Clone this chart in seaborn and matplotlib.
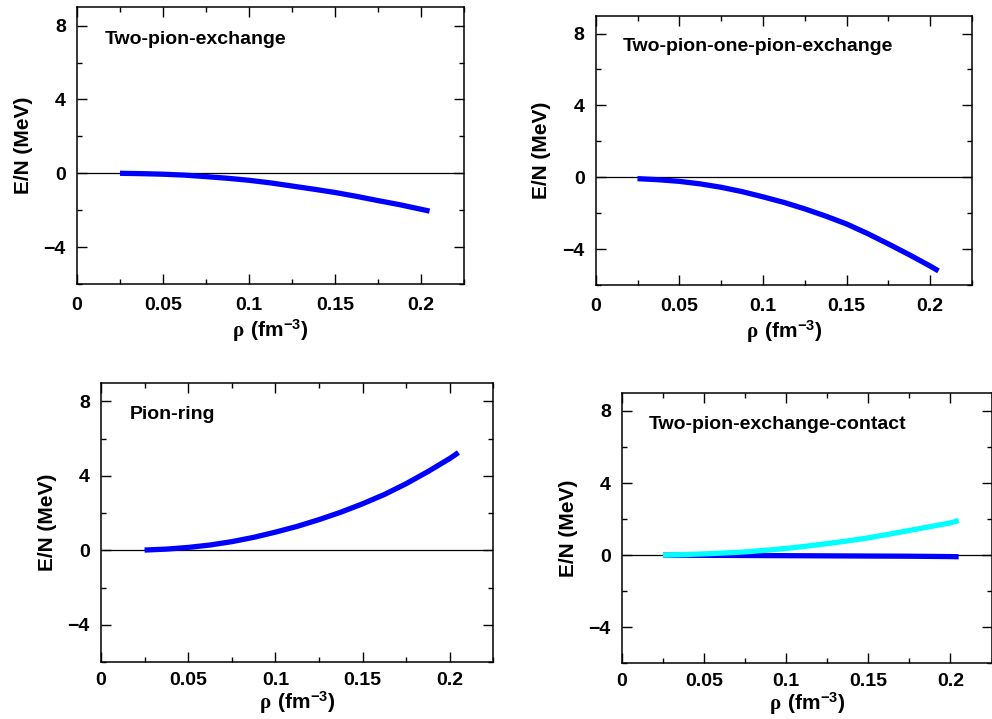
import matplotlib
matplotlib.use('Agg')
import matplotlib.pyplot as plt
import seaborn as sns
import pandas as pd

# densidade (fm^-3) e energia por nucleon (MeV)
rho = [0.025, 0.0375, 0.05, 0.0625, 0.075, 0.0875, 0.1, 0.1125, 0.125,
       0.1375, 0.15, 0.1625, 0.175, 0.1875, 0.2, 0.205]

two_pion_exchange = [0.0, -0.02, -0.05, -0.10, -0.18, -0.27, -0.38, -0.52, -0.69,
                     -0.86, -1.04, -1.25, -1.48, -1.70, -1.95, -2.05]
two_pion_one_pion = [-0.07, -0.13, -0.22, -0.36, -0.55, -0.79, -1.08, -1.39, -1.75,
                     -2.15, -2.59, -3.12, -3.70, -4.30, -4.93, -5.20]
pion_ring = [0.02, 0.07, 0.16, 0.29, 0.47, 0.70, 0.98, 1.29, 1.65,
             2.05, 2.50, 3.00, 3.58, 4.23, 4.93, 5.25]
contact_blue = [0.0, -0.005, -0.01, -0.015, -0.02, -0.025, -0.03, -0.035, -0.04,
                -0.045, -0.05, -0.055, -0.06, -0.07, -0.08, -0.09]
contact_cyan = [0.0, 0.03, 0.07, 0.12, 0.18, 0.27, 0.37, 0.50, 0.64,
                0.79, 0.96, 1.16, 1.37, 1.58, 1.79, 1.92]

panel_titles = ['Two-pion-exchange', 'Two-pion-one-pion-exchange',
                'Pion-ring', 'Two-pion-exchange-contact']
x_ticks = [0, 0.05, 0.1, 0.15, 0.2]
x_tick_labels = ['0', '0.05', '0.1', '0.15', '0.2']
y_ticks = [-4, 0, 4, 8]

sns.set_style('ticks')
plt.rcParams['font.family'] = ['Liberation Sans', 'DejaVu Sans']
plt.rcParams['font.weight'] = 'bold'
plt.rcParams['text.color'] = 'black'
plt.rcParams['axes.labelcolor'] = 'black'
plt.rcParams['xtick.color'] = 'black'
plt.rcParams['ytick.color'] = 'black'
plt.rcParams['mathtext.fontset'] = 'custom'
plt.rcParams['mathtext.rm'] = 'Liberation Serif'
plt.rcParams['mathtext.bf'] = 'Liberation Sans:bold'

fig = plt.figure(figsize=(9.92, 7.19), dpi=100)

# posicoes dos 4 paineis (left, bottom, width, height)
positions = [
    [0.0776, 0.605, 0.3901, 0.385],
    [0.6005, 0.6032, 0.3793, 0.3752],
    [0.1018, 0.0789, 0.3955, 0.3889],
    [0.627, 0.0775, 0.3725, 0.376],
]
# os paineis de baixo ficam perto da borda: rotulos x um pouco mais juntos
x_tick_pads = [9.5, 9.5, 7, 7]
x_label_pads = [2, 2, 0, 0]

series = [
    [(two_pion_exchange, '#0000ff')],
    [(two_pion_one_pion, '#0000ff')],
    [(pion_ring, '#0000ff')],
    [(contact_blue, '#0000ff'), (contact_cyan, '#00ffff')],
]

for i, (pos, title, curves) in enumerate(zip(positions, panel_titles, series)):
    ax = fig.add_axes(pos)
    ax.axhline(0, color='black', lw=0.9, zorder=1)
    for vals, cor in curves:
        df = pd.DataFrame({'rho': rho, 'E': vals})
        sns.lineplot(data=df, x='rho', y='E', ax=ax, color=cor, lw=3.8,
                     solid_capstyle='butt', zorder=3)
    ax.set_xlim(0, 0.225)
    ax.set_ylim(-6, 9)
    ax.set_xticks(x_ticks)
    ax.set_xticklabels(x_tick_labels)
    ax.set_xticks([0.025, 0.075, 0.125, 0.175, 0.225], minor=True)
    ax.set_yticks(y_ticks)
    ax.set_yticks([-6, -2, 2, 6], minor=True)
    ax.tick_params(which='both', direction='in', top=True, right=True,
                   labelsize=14, width=1.0, color='black')
    ax.tick_params(which='major', length=7.5)
    ax.tick_params(which='minor', length=3.5)
    ax.tick_params(axis='x', which='major', pad=x_tick_pads[i])
    ax.tick_params(axis='y', which='major', pad=8)
    for lab in ax.get_xticklabels() + ax.get_yticklabels():
        lab.set_fontweight('bold')
    for sp in ax.spines.values():
        sp.set_linewidth(1.1)
        sp.set_color('black')
    ax.set_xlabel(r'$\mathrm{\rho}\ \mathbf{(fm^{-3})}$', fontsize=15,
                  labelpad=x_label_pads[i])
    ax.set_ylabel('E/N (MeV)', fontsize=15, fontweight='bold', labelpad=8)
    ax.text(0.073, 0.885, title, transform=ax.transAxes, fontsize=14,
            fontweight='bold', va='center', ha='left')

fig.savefig('out.png', dpi=100)
